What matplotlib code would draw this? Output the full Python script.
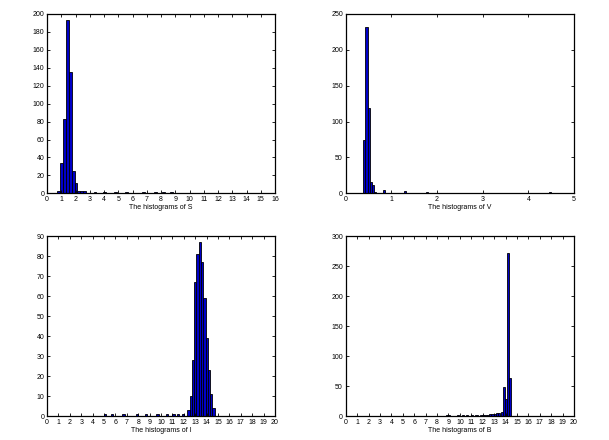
import matplotlib
matplotlib.use("Agg")
import matplotlib.pyplot as plt
import numpy as np

plt.rcParams['font.family'] = ['Liberation Sans', 'DejaVu Sans']

# ---- data: histogram bin centers and counts ----
s_width = 0.2
s_centers = [0.83, 1.03, 1.23, 1.43, 1.63, 1.83, 2.03, 2.23, 2.43, 2.63,
             3.37, 4.03, 4.78, 5.6, 6.77, 7.59, 8.17, 8.76]
s_counts = [3, 34, 83, 193, 135, 25, 12, 2, 2, 2,
            1, 1, 1, 1, 1, 1, 1, 1]

v_width = 0.046
v_centers = [0.409, 0.455, 0.501, 0.547, 0.593, 0.639, 0.685, 0.731, 0.777,
             0.845, 0.9, 0.95, 1.0, 1.05, 1.1, 1.15, 1.3,
             1.45, 1.61, 1.77, 1.99, 2.1, 2.41, 2.69, 2.96, 3.25, 3.42,
             3.53, 3.82, 3.96, 4.15, 4.47, 4.66, 4.86]
v_counts = [74, 232, 119, 16, 12, 2, 1, 1, 1,
            4, 1, 1, 1, 1, 1, 1, 3,
            1, 1, 2, 1, 1, 1, 1, 1, 1, 1,
            1, 1, 1, 1, 2, 1, 1]

i_width = 0.2
i_centers = [5.1, 5.7, 6.7, 7.9, 8.7, 9.7, 10.5, 11.1, 11.5, 11.9,
             12.41, 12.61, 12.81, 13.01, 13.21, 13.41, 13.61, 13.81,
             14.01, 14.21, 14.41, 14.61]
i_counts = [1, 1, 1, 1, 1, 1, 1, 1, 1, 1,
            3, 10, 28, 67, 81, 87, 77, 59, 39, 23, 11, 4]

b_width = 0.19
b_centers = [8.85, 9.05, 9.85, 10.25, 10.65, 11.05, 11.45, 11.85,
             12.05, 12.25, 12.45, 12.65, 12.85, 13.05, 13.25, 13.45, 13.655,
             13.845, 14.035, 14.225, 14.415]
b_counts = [2, 1, 1, 1, 1, 1, 1, 1,
            2, 2, 2, 3, 3, 4, 5, 5, 7,
            49, 28, 271, 64]

panels = [
    dict(c=s_centers, n=s_counts, w=s_width, xlim=(0, 16), xt=np.arange(0, 17, 1),
         ylim=(0, 200), yt=np.arange(0, 201, 20), label='The histograms of S',
         pos=[0.0772, 0.5607, 0.3744, 0.4075]),
    dict(c=v_centers, n=v_counts, w=v_width, xlim=(0, 5), xt=np.arange(0, 6, 1),
         ylim=(0, 250), yt=np.arange(0, 251, 50), label='The histograms of V',
         pos=[0.5677, 0.5607, 0.3749, 0.4075]),
    dict(c=i_centers, n=i_counts, w=i_width, xlim=(0, 20), xt=np.arange(0, 21, 1),
         ylim=(0, 90), yt=np.arange(0, 91, 10), label='The histograms of I',
         pos=[0.0772, 0.0545, 0.3744, 0.4091]),
    dict(c=b_centers, n=b_counts, w=b_width, xlim=(0, 20), xt=np.arange(0, 21, 1),
         ylim=(0, 300), yt=np.arange(0, 301, 50), label='The histograms of B',
         pos=[0.5677, 0.0545, 0.3749, 0.4091]),
]

fig = plt.figure(figsize=(6.09, 4.40), dpi=100)
for p in panels:
    ax = fig.add_axes(p['pos'])
    ax.bar(p['c'], p['n'], width=p['w'], color='#0000C8', edgecolor='black',
           linewidth=0.6, align='center')
    ax.set_xlim(*p['xlim'])
    ax.set_ylim(*p['ylim'])
    ax.set_xticks(p['xt'])
    ax.set_yticks(p['yt'])
    ax.tick_params(direction='in', top=True, right=True, length=2.5, width=0.6,
                   labelsize=5, pad=2)
    for sp in ax.spines.values():
        sp.set_linewidth(0.9)
    ax.set_xlabel(p['label'], fontsize=5, labelpad=1)

fig.savefig('out.png', dpi=100)
